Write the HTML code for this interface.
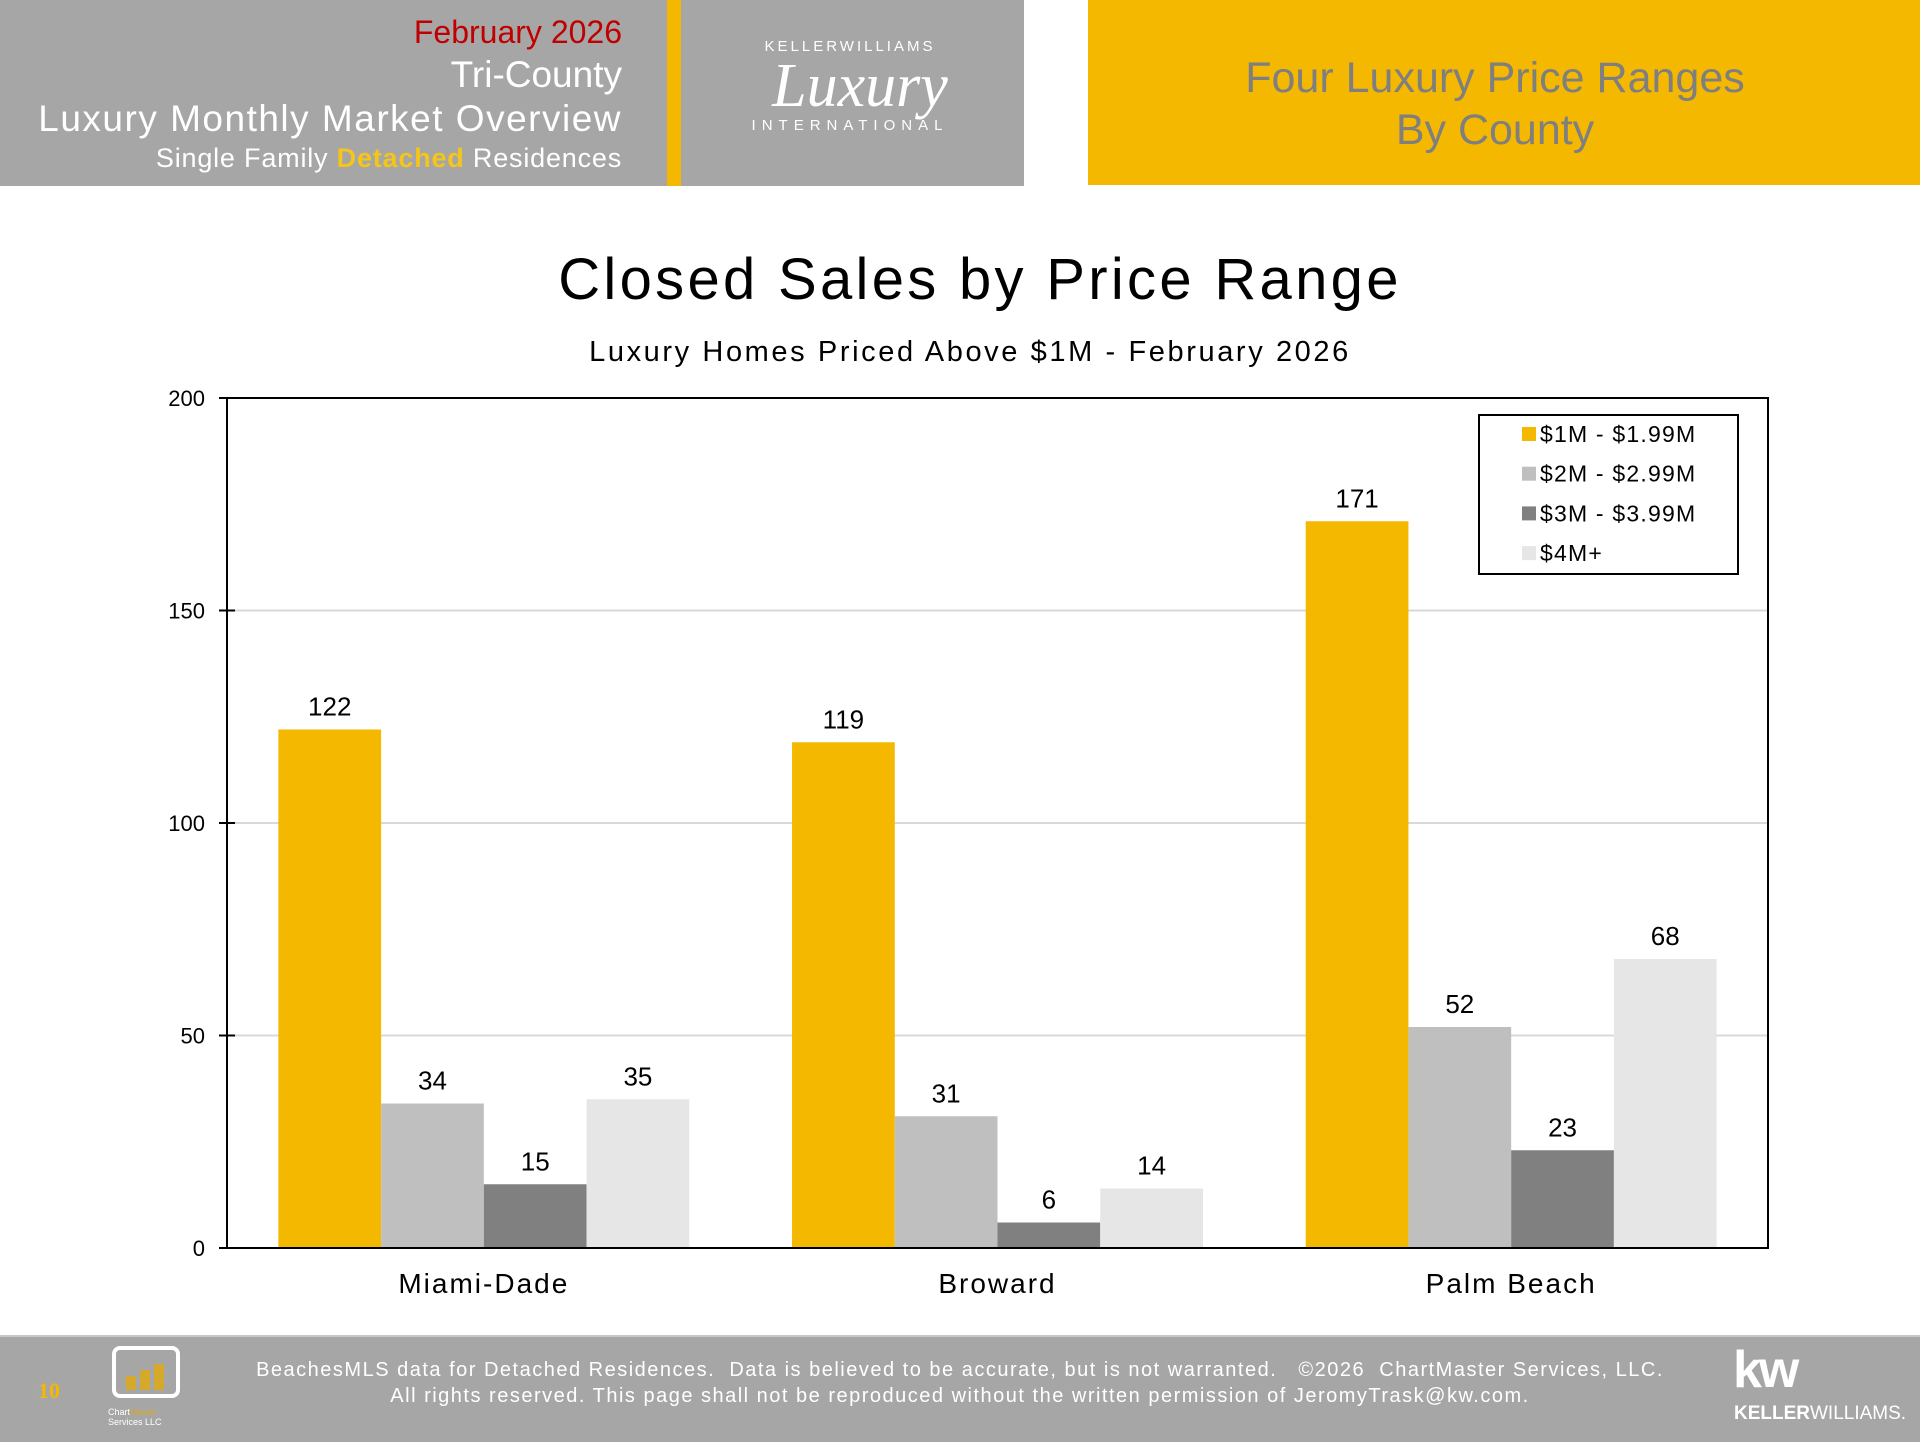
<!DOCTYPE html>
<html><head><meta charset="utf-8">
<style>
body{margin:0;width:1920px;height:1440px;position:relative;background:#fff;font-family:"Liberation Sans",sans-serif;overflow:hidden}
.abs{position:absolute}
</style></head><body>
<div class="abs" style="left:0;top:0;width:1024px;height:186px;background:#a6a6a6"></div>
<div class="abs" style="left:667px;top:0;width:14px;height:186px;background:#f5b800"></div>
<div class="abs" style="right:1298px;top:14px;font-size:32px;color:#c00000;white-space:nowrap">February 2026</div>
<div class="abs" style="right:1298px;top:54px;font-size:37px;color:#fff;white-space:nowrap">Tri-County</div>
<div class="abs" style="right:1298px;top:98px;font-size:37px;letter-spacing:1.5px;color:#fff;white-space:nowrap">Luxury Monthly Market Overview</div>
<div class="abs" style="right:1298px;top:143px;font-size:27px;letter-spacing:0.8px;color:#fff;white-space:nowrap">Single Family <b style="color:#f5c518">Detached</b> Residences</div>
<div class="abs" style="left:700px;top:38px;width:320px;text-align:center;color:#fff">
 <div style="font-size:15px;letter-spacing:3px;margin-left:-20px">KELLER<span style="font-weight:normal">WILLIAMS</span></div>
 <div style="font-family:'Liberation Serif',serif;font-style:italic;font-size:62px;line-height:62px">Luxury</div>
 <div style="font-size:15px;letter-spacing:6px;margin-left:-20px">INTERNATIONAL</div>
</div>
<div class="abs" style="left:1088px;top:0;width:832px;height:185px;background:#f5b800"></div>
<div class="abs" style="left:1088px;top:52px;width:814px;text-align:center;font-size:43px;line-height:52px;color:#7f7f7f">Four Luxury Price Ranges<br>By County</div>

<svg class="abs" style="left:0;top:0" width="1920" height="1335">
<text x="980" y="299" text-anchor="middle" font-size="58" letter-spacing="3.3" font-family="Liberation Sans" fill="#000">Closed Sales by Price Range</text>
<text x="970" y="361" text-anchor="middle" font-size="29" letter-spacing="2.6" font-family="Liberation Sans" fill="#000">Luxury Homes Priced Above $1M - February 2026</text>
<g id="plot"></g>
</svg>

<div class="abs" style="left:0;top:1335px;width:1920px;height:105px;background:#a6a6a6;border-top:2px solid #c8c8c8"></div>
<div class="abs" style="left:38px;top:1378px;font-family:'Liberation Serif',serif;font-weight:bold;font-size:22px;color:#f5b800">10</div>
<div class="abs" style="left:112px;top:1346px;width:68px;height:52px;border:4px solid #fff;border-radius:8px;box-sizing:border-box">
 <div style="position:absolute;left:10px;bottom:4px;width:10px;height:14px;background:#d4a92c"></div>
 <div style="position:absolute;left:24px;bottom:4px;width:10px;height:20px;background:#d4a92c"></div>
 <div style="position:absolute;left:38px;bottom:4px;width:10px;height:26px;background:#d4a92c"></div>
</div>
<div class="abs" style="left:108px;top:1407px;font-size:9px;color:#fff;line-height:10px">Chart<span style="color:#d4a92c">Master</span><br>Services LLC</div>
<div class="abs" style="left:200px;top:1357px;width:1520px;text-align:center;font-size:20px;letter-spacing:1.5px;line-height:26px;color:#fff;white-space:nowrap">BeachesMLS data for Detached Residences.&nbsp; Data is believed to be accurate, but is not warranted.&nbsp;&nbsp; ©2026&nbsp; ChartMaster Services, LLC.<br>All rights reserved. This page shall not be reproduced without the written permission of JeromyTrask@kw.com.</div>
<div class="abs" style="left:1733px;top:1340px;color:#fff;font-size:52px;font-weight:bold;letter-spacing:-3px">kw</div>
<div class="abs" style="left:1734px;top:1403px;color:#fff;font-size:19px"><b>KELLER</b>WILLIAMS.</div>

<script>
const categories=["Miami-Dade","Broward","Palm Beach"];
const seriesNames=["$1M - $1.99M","$2M - $2.99M","$3M - $3.99M","$4M+"];
const s1=[122,119,171];
const s2=[34,31,52];
const s3=[15,6,23];
const s4=[35,14,68];
const yTicks=[0,50,100,150,200];
const series=[s1,s2,s3,s4];
const colors=["#f5b800","#bfbfbf","#808080","#e6e6e6"];
const NS="http://www.w3.org/2000/svg";
const L=227,R=1768,T=398,B=1248,yMax=200;
const y=v=>B-(v/yMax)*(B-T);
const catW=(R-L)/categories.length;
const barW=catW*0.8/series.length;
const x=(c,s)=>L+c*catW+catW*0.1+s*barW;
const g=document.getElementById('plot');
function mk(tag,attrs){const e=document.createElementNS(NS,tag);for(const k in attrs)e.setAttribute(k,attrs[k]);g.appendChild(e);return e;}
yTicks.forEach(t=>{
  if(t>0&&t<yMax){const gl=mk('line',{x1:L,x2:R,y1:y(t),y2:y(t),stroke:'#d9d9d9','stroke-width':2});
  
  }
  const tk=mk('line',{x1:L-8,x2:L+8,y1:y(t),y2:y(t),stroke:'#000','stroke-width':2});
  
  
  const tl=mk('text',{x:L-22,y:y(t)+8,'text-anchor':'end','font-size':22,'font-family':'Liberation Sans'});
  tl.textContent=t;
  
  
});
series.forEach((arr,s)=>arr.forEach((v,c)=>{
  const r=mk('rect',{x:x(c,s),y:y(v),width:barW,height:B-y(v),fill:colors[s]});
  
  
  const t=mk('text',{x:x(c,s)+barW/2,y:y(v)-14,'text-anchor':'middle','font-size':26,'font-family':'Liberation Sans'});
  t.textContent=v;
  
  
}));
const frame=mk('rect',{x:L,y:T,width:R-L,height:B-T,fill:'none',stroke:'#000','stroke-width':2});


categories.forEach((c,i)=>{
  const t=mk('text',{x:L+catW*(i+0.5),y:1293,'text-anchor':'middle','font-size':28,'letter-spacing':2,'font-family':'Liberation Sans'});
  t.textContent=c;
  
  
});
const lb=mk('rect',{x:1479,y:415,width:259,height:159,fill:'#fff',stroke:'#000','stroke-width':2});


seriesNames.forEach((n,i)=>{
  const cy=434+i*39.7;
  const sw=mk('rect',{x:1522,y:cy-7,width:14,height:14,fill:colors[i]});
  
  
  const t=mk('text',{x:1540,y:cy+8,'font-size':23,'letter-spacing':1.2,'font-family':'Liberation Sans'});
  t.textContent=n;
  
  
});
</script>
</body></html>
